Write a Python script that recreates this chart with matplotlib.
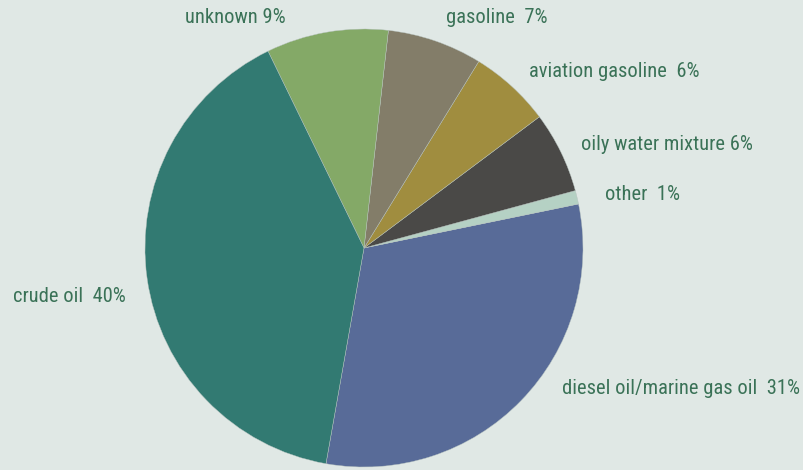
import matplotlib.pyplot as plt

# data
labels = ["diesel oil/marine gas oil  31%", "other  1%", "oily water mixture 6%",
          "aviation gasoline  6%", "gasoline  7%", "unknown 9%", "crude oil  40%"]
shares = [31, 1, 6, 6, 7, 9, 40]
colors = ["#586b98", "#b5d1c4", "#4a4947", "#a08d3f", "#837d69", "#84a967", "#327a72"]

# label positions in pixels (left edge, vertical centre)
label_x = [562, 605, 581, 529, 446, 185, 13]
label_y = [389, 194, 145, 71, 17, 17, 297]

bg = "#e0e8e5"
txt_color = "#3a7257"

plt.rcParams['font.family'] = ['Roboto Condensed', 'DejaVu Sans']

fig = plt.figure(figsize=(8.04, 4.70), dpi=100, facecolor=bg)
ax = fig.add_axes([0, 0, 1, 1])
ax.set_facecolor(bg)

ax.pie(shares, colors=colors, startangle=-100, counterclock=True,
       center=(364, 470 - 248), radius=219,
       wedgeprops=dict(linewidth=0.3, edgecolor="#b8c4c0"))

for lab, x, y in zip(labels, label_x, label_y):
    ax.text(x, 470 - y, lab, color=txt_color, fontsize=14.8,
            ha="left", va="center")

ax.set_xlim(0, 804)
ax.set_ylim(0, 470)
ax.set_aspect("equal")
ax.axis("off")

fig.savefig("out.png", dpi=100, facecolor=bg)
